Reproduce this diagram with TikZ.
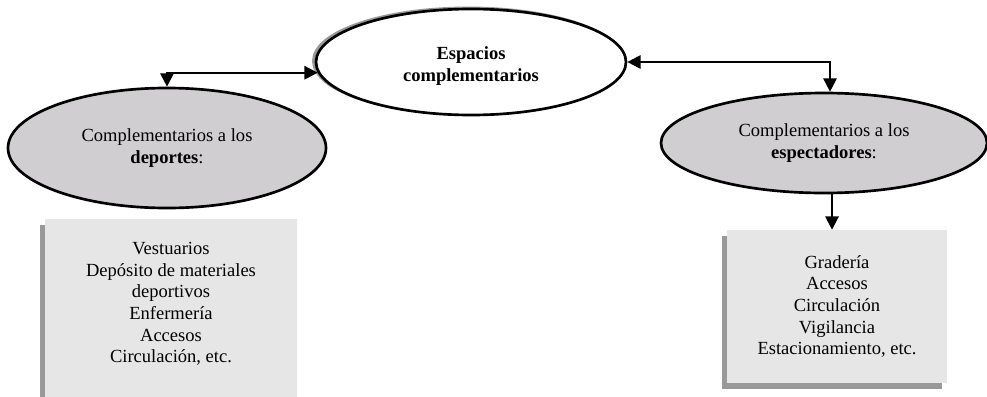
\documentclass[tikz,border=0pt]{standalone}
\usepackage{fontspec}
\setmainfont{Liberation Serif}
\usetikzlibrary{shapes.geometric,shadows,arrows.meta}
\definecolor{ellfill}{RGB}{208,206,208}
\definecolor{boxfill}{RGB}{230,230,230}
\definecolor{shadowgray}{RGB}{153,153,153}
\begin{document}
\begin{tikzpicture}[x=0.75pt,y=-0.75pt,
  every node/.style={font=\fontsize{13.9}{16.2}\selectfont, align=center, inner sep=0pt},
  ell/.style={ellipse, draw=black, line width=2pt},
  sideell/.style={ell, fill=ellfill},
  listbox/.style={rectangle, fill=boxfill, drop shadow={shadow xshift=-3.75pt, shadow yshift=-4.5pt, fill=shadowgray, opacity=1}},
  conn/.style={line width=1.5pt, {Triangle[length=10pt,width=10pt]}-{Triangle[length=10pt,width=10pt]}},
  oneway/.style={line width=1.5pt, -{Triangle[length=10pt,width=10pt]}}]
\useasboundingbox (0,0) rectangle (987,396);
\clip (0,0) rectangle (987,396);
\fill[white] (0,0) rectangle (987,396);
% central ellipse with gray ring
\node[ellipse, draw=shadowgray, line width=2.2pt, minimum width=232.5pt, minimum height=79.5pt] (Cs) at (468.5,61) {};
\node[ell, fill=white, minimum width=232.5pt, minimum height=79.5pt] (C) at (471,62) {};
\node (Ct) at (471,66) {\textbf{Espacios}\\\textbf{complementarios}};
% side ellipses
\node[sideell, minimum width=238.5pt, minimum height=90pt] (L) at (167,148) {Complementarios a los\\\textbf{deportes}:};
\node[sideell, minimum width=244.5pt, minimum height=75pt] (R) at (824,143) {Complementarios a los\\\textbf{espectadores}:};
% boxes
\node[listbox, minimum width=189pt, minimum height=135.75pt] (B1) at (171,309.5) {};
\node (T1) at (171,304) {Vestuarios\\Depósito de materiales\\deportivos\\Enfermería\\Accesos\\Circulación, etc.};
\node[listbox, minimum width=165pt, minimum height=114.75pt] (B2) at (837,306.5) {Gradería\\Accesos\\Circulación\\Vigilancia\\Estacionamiento, etc.};
% connectors
\draw[conn] (L.north) |- (C.184);
\draw[conn] (C.east) -| ([xshift=4.5pt]R.north);
\draw[oneway] ([xshift=6pt]R.south) -- ([xshift=6pt]R.south |- B2.north);
\end{tikzpicture}
\end{document}
